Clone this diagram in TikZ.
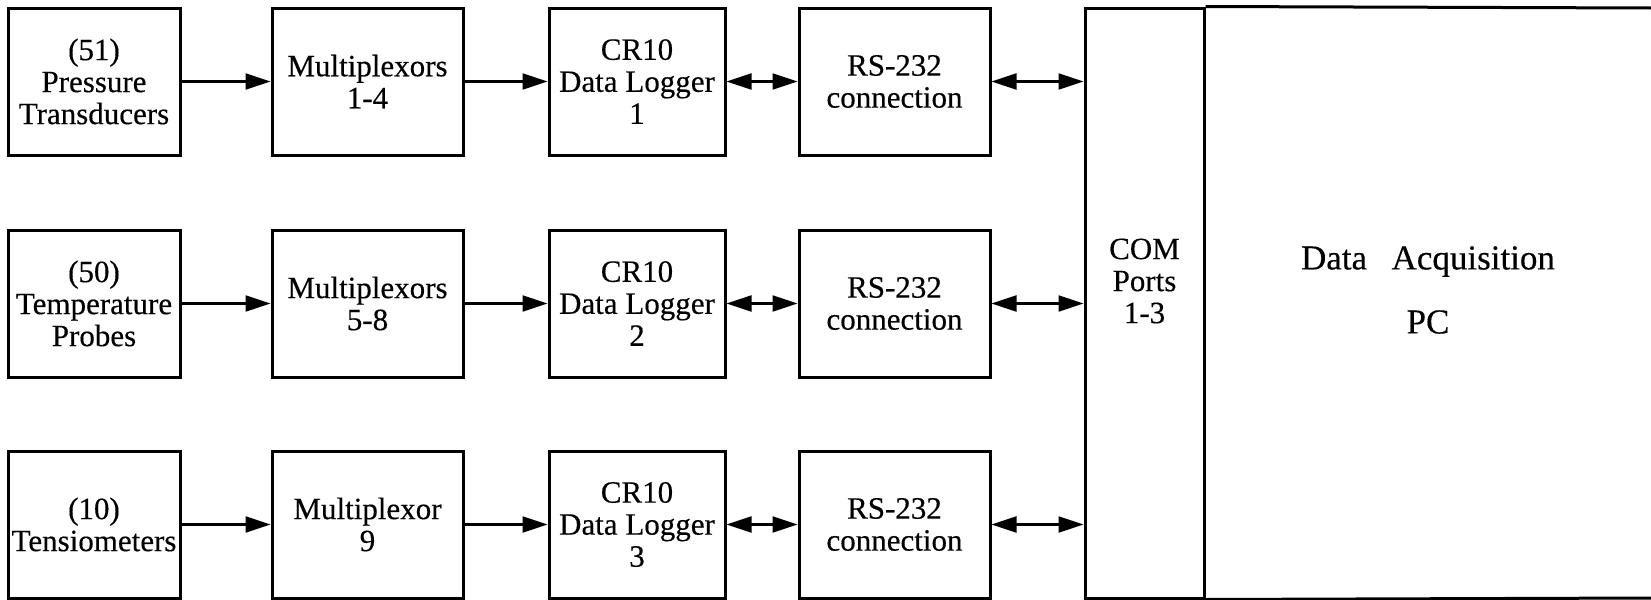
\documentclass[tikz,border=0pt]{standalone}
\usepackage{fontspec}
\setmainfont{Liberation Serif}
\newfontfamily\inkfont{Liberation Serif}[FakeBold=0.35]
\usetikzlibrary{arrows.meta}
\tikzset{
  blk/.style={draw, line width=1.5pt, align=center, inner sep=0pt,
              font=\inkfont\fontsize{15.5}{16}\selectfont},
  lbl/.style={align=center, inner sep=0pt, font=\inkfont\fontsize{15.5}{16}\selectfont},
  big/.style={font=\inkfont\fontsize{17.5}{18}\selectfont},
  tip/.tip={Triangle[length=12.5pt,width=8pt]},
  arr/.style={line width=1.1pt, -tip},
  darr/.style={line width=1.1pt, tip-tip},
  frame/.style={line width=1.5pt}
}
\begin{document}
\begin{tikzpicture}[x=0.5pt,y=-0.5pt]
\useasboundingbox (0,0) rectangle (1651,600);

% sensor inputs
\node[blk, minimum width=86pt, minimum height=73.5pt] (s1) at (94,81.5) {(51)\\Pressure\\Transducers};
\node[blk, minimum width=86pt, minimum height=73.5pt] (s2) at (94,303.5) {(50)\\Temperature\\Probes};
\node[blk, minimum width=86pt, minimum height=73.5pt] (s3) at (94,524.5) {(10)\\Tensiometers};

% multiplexors
\node[blk, minimum width=95.5pt, minimum height=73.5pt] (m1) at (367.5,81.5) {Multiplexors\\1-4};
\node[blk, minimum width=95.5pt, minimum height=73.5pt] (m2) at (367.5,303.5) {Multiplexors\\5-8};
\node[blk, minimum width=95.5pt, minimum height=73.5pt] (m3) at (367.5,524.5) {Multiplexor\\9};

% data loggers
\node[blk, minimum width=88pt, minimum height=73.5pt] (d1) at (637,81.5) {CR10\\Data Logger\\1};
\node[blk, minimum width=88pt, minimum height=73.5pt] (d2) at (637,303.5) {CR10\\Data Logger\\2};
\node[blk, minimum width=88pt, minimum height=73.5pt] (d3) at (637,524.5) {CR10\\Data Logger\\3};

% serial links
\node[blk, minimum width=95.5pt, minimum height=73.5pt] (r1) at (894.5,81.5) {RS-232\\connection};
\node[blk, minimum width=95.5pt, minimum height=73.5pt] (r2) at (894.5,303.5) {RS-232\\connection};
\node[blk, minimum width=95.5pt, minimum height=73.5pt] (r3) at (894.5,524.5) {RS-232\\connection};

% COM ports column
\node[draw, frame, minimum width=59.5pt, minimum height=295pt, inner sep=0pt] (com) at (1144.5,303) {};
\node[lbl] (comtxt) at (1144.5,281) {COM\\Ports\\1-3};

% acquisition PC (open to the right)
\coordinate (pcne) at (1651,8);
\coordinate (pcse) at (1651,598);
\draw[frame] (com.north east) -- (pcne);
\draw[frame] (com.south east) -- (pcse);
\node[lbl, big] (pc) at (1428,290) {Data\hspace{0.7em}Acquisition\\[14pt]PC};

% signal flow
\foreach \i in {1,2,3}{
  \draw[arr] (s\i.east) -- (m\i.west);
  \draw[arr] (m\i.east) -- (d\i.west);
  \draw[darr] (d\i.east) -- (r\i.west);
  \draw[darr] (r\i.east) -- (com.west |- r\i.east);
}
\end{tikzpicture}
\end{document}
